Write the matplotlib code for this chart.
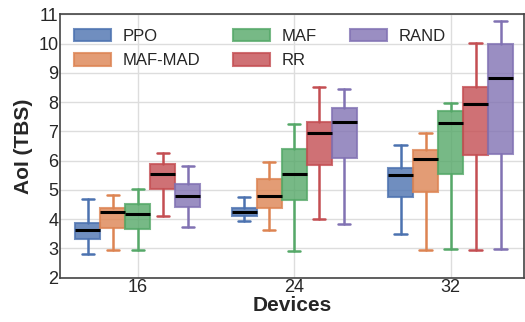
import matplotlib.pyplot as plt
import seaborn as sns

# box stats (per device count, per method)
devices = ["16", "24", "32"]
methods = ["PPO", "MAF-MAD", "MAF", "RR", "RAND"]

whislo = [[2.81, 2.95, 2.95, 4.12, 3.73],
          [3.93, 3.62, 2.91, 4.00, 3.84],
          [3.48, 2.95, 2.98, 2.95, 2.98]]
q1 = [[3.31, 3.70, 3.65, 5.04, 4.42],
      [4.11, 4.38, 4.65, 5.84, 6.09],
      [4.74, 4.94, 5.55, 6.18, 6.22]]
med = [[3.63, 4.26, 4.19, 5.54, 4.79],
       [4.24, 4.79, 5.56, 6.96, 7.31],
       [5.50, 6.07, 7.28, 7.95, 8.82]]
q3 = [[3.88, 4.38, 4.52, 5.89, 5.20],
      [4.37, 5.38, 6.40, 7.33, 7.80],
      [5.76, 6.37, 7.71, 8.53, 9.98]]
whishi = [[4.70, 4.82, 5.02, 6.25, 5.82],
          [4.77, 5.97, 7.25, 8.52, 8.44],
          [6.55, 6.96, 7.96, 10.03, 10.77]]

sns.set_style("whitegrid")
plt.rcParams["font.family"] = ["Liberation Sans", "DejaVu Sans"]

colors = sns.color_palette("deep", 5)

fig = plt.figure(figsize=(5.25, 3.22), dpi=100)
ax = fig.add_axes([0.114, 0.138, 0.884, 0.817])

bw = 0.16
for j, m in enumerate(methods):
    stats = []
    pos = []
    for i in range(len(devices)):
        stats.append(dict(med=med[i][j], q1=q1[i][j], q3=q3[i][j],
                          whislo=whislo[i][j], whishi=whishi[i][j], fliers=[]))
        pos.append(i + (j - 2) * bw)
    c = colors[j]
    bp = ax.bxp(stats, positions=pos, widths=bw, patch_artist=True,
                showfliers=False,
                boxprops=dict(facecolor=c, edgecolor=c, alpha=0.8, linewidth=1.5),
                whiskerprops=dict(color=c, linewidth=1.8),
                capprops=dict(color=c, linewidth=1.8),
                medianprops=dict(color="black", linewidth=2.2),
                capwidths=bw / 2)
    bp["boxes"][0].set_label(m)

ax.set_xlim(-0.5, 2.47)
ax.set_ylim(2, 11)
ax.set_yticks(range(2, 12))
ax.set_xticks(range(len(devices)))
ax.set_xticklabels(devices)
ax.tick_params(labelsize=13, pad=1, length=0)
ax.set_xlabel("Devices", fontsize=15, fontweight="bold", labelpad=0)
ax.set_ylabel("AoI (TBS)", fontsize=15, fontweight="bold", labelpad=4)
ax.grid(True, color="#dddddd", linewidth=1)
for s in ax.spines.values():
    s.set_color("#444444")
    s.set_linewidth(1.2)

ax.legend(ncol=3, loc="upper left", fontsize=12, frameon=False,
          handlelength=2.2, handleheight=0.8, handletextpad=0.7,
          columnspacing=2.0, borderaxespad=0.45, labelspacing=0.55)

fig.savefig("out.png")
